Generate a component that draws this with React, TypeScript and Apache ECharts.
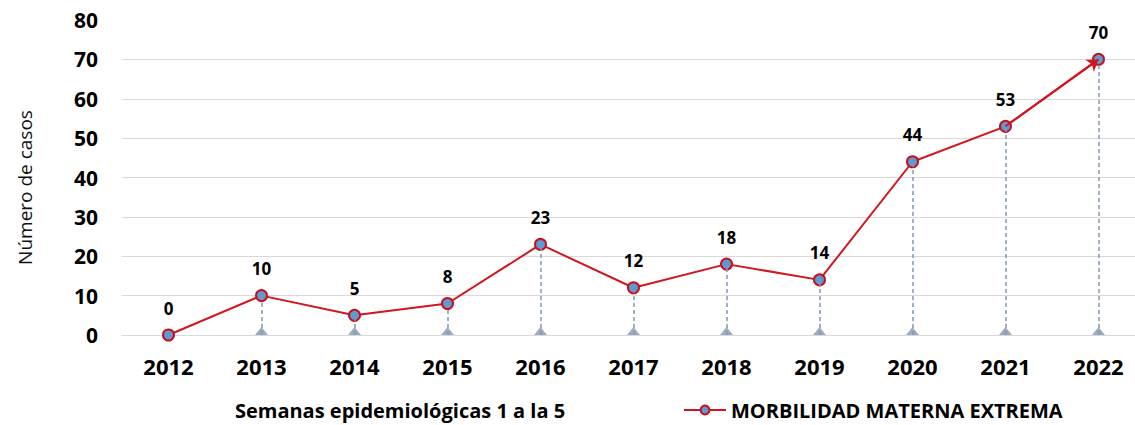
import React, { useEffect, useRef } from "react";
import * as echarts from "echarts";

const years = ["2012", "2013", "2014", "2015", "2016", "2017", "2018", "2019", "2020", "2021", "2022"];
const cases = [0, 10, 5, 8, 23, 12, 18, 14, 44, 53, 70];
const seriesName = "MORBILIDAD MATERNA EXTREMA";
const xTitle = "Semanas epidemiológicas 1 a la 5";
const yTitle = "Número de casos";

const FONT = "'Open Sans', Lato, sans-serif";

export default function App() {
  const ref = useRef<HTMLDivElement>(null);
  useEffect(() => {
    document.body.style.margin = "0";
    const chart = echarts.init(ref.current!, null, { renderer: "svg" });
    const last = cases.length - 1;
    const gridColors = ["#d9d9d9", "#d9d9d9", "#d9d9d9", "#d9d9d9", "#d9d9d9", "#d9d9d9", "#d9d9d9", "#d9d9d9", "rgba(0,0,0,0)"];
    chart.setOption({
      animation: false,
      textStyle: { fontFamily: FONT },
      grid: { left: 122, right: 1, top: 20, bottom: 90 },
      legend: {
        data: [seriesName],
        left: 683,
        top: 399,
        padding: 0,
        itemWidth: 42,
        itemHeight: 11,
        itemGap: 6,
        textStyle: { fontFamily: FONT, fontWeight: "bold", fontSize: 20, lineHeight: 22, color: "#000" },
      },
      xAxis: {
        type: "category",
        data: years,
        boundaryGap: true,
        axisLine: { lineStyle: { color: "#d9d9d9", width: 1 } },
        axisTick: { show: false },
        axisLabel: { fontFamily: FONT, fontWeight: "bold", fontSize: 22, color: "#000", margin: 20 },
      },
      yAxis: {
        type: "value",
        min: 0,
        max: 80,
        interval: 10,
        name: yTitle,
        nameLocation: "middle",
        nameGap: 88,
        nameTextStyle: { fontFamily: FONT, fontSize: 19, color: "#111", padding: [0, 20, 0, 0] },
        axisLine: { show: false },
        axisTick: { show: false },
        axisLabel: { fontFamily: FONT, fontWeight: "bold", fontSize: 21, color: "#000", margin: 24 },
        splitLine: { lineStyle: { color: gridColors, width: 1 } },
      },
      graphic: [
        {
          type: "text",
          x: 400,
          y: 410,
          style: {
            text: xTitle,
            fontFamily: FONT,
            fontWeight: "bold",
            fontSize: 20,
            lineHeight: 22,
            fill: "#000",
            textAlign: "center",
            textVerticalAlign: "middle",
          },
        },
      ],
      series: [
        {
          name: "drops",
          type: "scatter",
          data: cases.map((v) => (v > 0 ? 0 : "-")),
          symbol: "triangle",
          symbolSize: [13, 8],
          symbolOffset: [0, -4],
          itemStyle: { color: "#8496b0" },
          silent: true,
          z: 1,
          markLine: {
            silent: true,
            symbol: "none",
            label: { show: false },
            lineStyle: { color: "#8496b0", type: [4, 3], width: 1.5 },
            data: cases
              .map((v, i) => (v > 0 ? [{ coord: [years[i], 0] }, { coord: [years[i], v] }] : null))
              .filter((d) => d !== null),
          },
        },
        {
          name: seriesName,
          type: "line",
          data: cases,
          z: 3,
          lineStyle: { color: "#d2161e", width: 2 },
          symbol: "circle",
          symbolSize: 11,
          itemStyle: { color: "#5b9bd5", borderColor: "#c8101a", borderWidth: 2 },
          label: {
            show: true,
            position: "top",
            distance: 12,
            fontFamily: FONT,
            fontWeight: "bold",
            fontSize: 17,
            color: "#000",
          },
          markLine: {
            silent: true,
            symbol: ["none", "arrow"],
            symbolSize: 11,
            label: { show: false },
            lineStyle: { color: "#d2161e", type: "solid", width: 2 },
            data: [[{ coord: [years[last - 1], cases[last - 1]] }, { coord: [years[last], cases[last]] }]],
          },
        },
      ],
    });
    return () => chart.dispose();
  }, []);
  return (
    <div style={{ width: 1135, height: 425, overflow: "hidden", position: "relative" }}>
      <div ref={ref} style={{ width: 1146, height: 425 }} />
    </div>
  );
}
